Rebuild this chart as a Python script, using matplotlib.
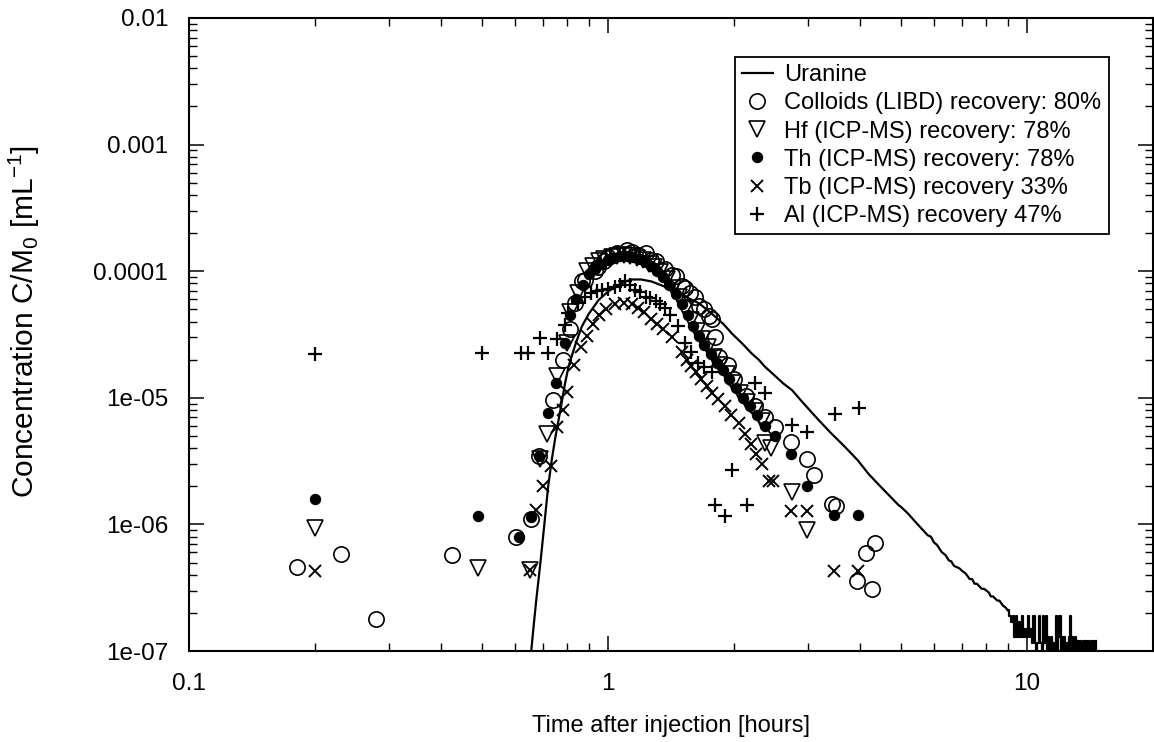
import matplotlib
matplotlib.use("Agg")
import matplotlib.pyplot as plt
from matplotlib.ticker import FixedLocator, FixedFormatter, LogLocator, NullFormatter

plt.rcParams['font.family'] = ['Liberation Sans', 'DejaVu Sans']
plt.rcParams['mathtext.fontset'] = 'custom'
plt.rcParams['mathtext.rm'] = 'Liberation Sans'
plt.rcParams['mathtext.it'] = 'Liberation Sans:italic'

# ---------------- data ----------------
uranine_t = [0.656, 0.665, 0.675, 0.69, 0.705, 0.72, 0.735, 0.75, 0.77, 0.79, 0.805,
             0.835, 0.866, 0.90, 0.949, 1.0, 1.04, 1.09, 1.14, 1.2, 1.27, 1.36, 1.474,
             1.56, 1.645, 1.72, 1.80, 1.89, 1.98, 2.1, 2.2, 2.29, 2.37, 2.5, 2.62, 2.75,
             2.9, 3.05, 3.18, 3.4, 3.6, 3.76, 3.95, 4.19, 4.5, 4.94,
             5.0, 5.2, 5.4, 5.6, 5.8, 5.9, 6.0, 6.1, 6.26, 6.4, 6.51, 6.6, 6.7, 6.8, 6.9,
             7.0, 7.14, 7.3, 7.4, 7.5, 7.6, 7.8, 7.9, 8.11, 8.2, 8.3, 8.5, 8.6, 8.75, 8.9, 9.0]
uranine_c = [1.0e-7, 1.6e-7, 2.6e-7, 5.0e-7, 1.0e-6, 2.0e-6, 3.3e-6, 5.0e-6, 8.0e-6, 1.3e-5, 1.76e-5,
             2.6e-5, 3.65e-5, 4.6e-5, 5.9e-5, 6.9e-5, 7.5e-5, 8.2e-5, 8.6e-5, 8.6e-5, 8.3e-5, 7.6e-5, 6.7e-5,
             6.1e-5, 5.6e-5, 5.0e-5, 4.4e-5, 3.8e-5, 3.2e-5, 2.65e-5, 2.25e-5, 2.0e-5, 1.76e-5, 1.5e-5, 1.3e-5, 1.15e-5,
             9.4e-6, 7.8e-6, 6.7e-6, 5.3e-6, 4.4e-6, 3.8e-6, 3.2e-6, 2.5e-6, 1.95e-6, 1.42e-6,
             1.38e-6, 1.22e-6, 1.06e-6, 9.3e-7, 8.2e-7, 8.0e-7, 7.2e-7, 6.9e-7, 6.05e-7, 5.7e-7, 5.2e-7, 5.1e-7,
             4.7e-7, 4.6e-7, 4.5e-7, 4.3e-7, 4.1e-7, 3.7e-7, 3.7e-7, 3.4e-7, 3.4e-7, 3.1e-7, 3.1e-7, 2.9e-7,
             2.7e-7, 2.7e-7, 2.5e-7, 2.5e-7, 2.3e-7, 2.2e-7, 2.1e-7]
# quantised, noisy tail of the uranine curve (drawn as steps)
uranine_tail_t = [9.0, 9.08, 9.16, 9.24, 9.32, 9.40, 9.48, 9.56, 9.64, 9.72, 9.80, 9.88, 9.96,
                  10.04, 10.12, 10.2, 10.28, 10.36, 10.44, 10.52, 10.6, 10.68, 10.76, 10.84,
                  10.92, 11.0, 11.08, 11.16, 11.24, 11.32, 11.4, 11.48, 11.56, 11.64, 11.72,
                  11.8, 11.88, 11.96, 12.04, 12.12, 12.2, 12.28, 12.36, 12.44, 12.52, 12.6,
                  12.68, 12.76, 12.84, 12.92, 13.0, 13.1, 13.2, 13.3, 13.4, 13.5, 13.6, 13.7,
                  13.8, 13.9, 14.0, 14.1, 14.2, 14.3, 14.4, 14.5, 14.6]
uranine_tail_c = [2.1e-7, 1.9e-7, 1.7e-7, 1.9e-7, 1.3e-7, 1.9e-7, 1.3e-7, 1.7e-7, 1.3e-7, 1.9e-7,
                  1.3e-7, 1.5e-7, 1.3e-7, 1.9e-7, 1.3e-7, 1.5e-7, 1.15e-7, 1.9e-7, 1.15e-7, 9.5e-8,
                  1.15e-7, 1.9e-7, 1.15e-7, 9.5e-8, 1.9e-7, 1.15e-7, 1.9e-7, 9.5e-8, 1.3e-7, 9.5e-8,
                  1.3e-7, 9.5e-8, 1.15e-7, 9.5e-8, 1.9e-7, 9.5e-8, 1.3e-7, 1.9e-7, 9.5e-8, 1.3e-7,
                  9.5e-8, 1.3e-7, 9.5e-8, 1.15e-7, 9.5e-8, 1.3e-7, 1.9e-7, 9.5e-8, 1.3e-7, 9.5e-8,
                  1.3e-7, 9.5e-8, 1.2e-7, 9.5e-8, 1.2e-7, 9.5e-8, 1.2e-7, 9.5e-8, 1.2e-7, 9.5e-8,
                  1.2e-7, 9.5e-8, 1.2e-7, 9.5e-8, 1.2e-7, 9.5e-8, 1.2e-7]

colloid_t = [0.181, 0.23, 0.28, 0.425, 0.604, 0.655, 0.685, 0.741, 0.783, 0.81, 0.835, 0.866,
             0.882, 0.93, 0.949, 0.98, 1.0, 1.05, 1.11, 1.14, 1.18, 1.23, 1.27, 1.30, 1.37,
             1.42, 1.45, 1.50, 1.53, 1.57, 1.61, 1.645, 1.70, 1.74, 1.77, 1.80, 1.84, 1.93,
             2.0, 2.14, 2.25, 2.37, 2.5, 2.73, 2.99, 3.1, 3.42, 3.5, 3.93, 4.12, 4.27, 4.33]
colloid_c = [4.6e-7, 5.8e-7, 1.79e-7, 5.7e-7, 7.9e-7, 1.1e-6, 3.5e-6, 9.6e-6, 2.0e-5, 3.5e-5, 5.6e-5, 8.3e-5,
             8.5e-5, 1.0e-4, 1.08e-4, 1.2e-4, 1.3e-4, 1.38e-4, 1.47e-4, 1.42e-4, 1.35e-4, 1.38e-4, 1.23e-4, 1.2e-4, 1.05e-4,
             9.3e-5, 9.1e-5, 7.6e-5, 7.4e-5, 6.7e-5, 6.2e-5, 5.3e-5, 5.0e-5, 4.4e-5, 4.2e-5, 3.0e-5, 2.1e-5, 1.8e-5,
             1.4e-5, 1.03e-5, 8.6e-6, 7.1e-6, 5.9e-6, 4.5e-6, 3.3e-6, 2.45e-6, 1.45e-6, 1.4e-6, 3.6e-7, 5.9e-7, 3.1e-7, 7.1e-7]

hf_t = [0.2, 0.49, 0.652, 0.69, 0.714, 0.755, 0.797, 0.81, 0.85, 0.89, 0.92, 0.95, 0.98, 1.02,
        1.05, 1.09, 1.13, 1.17, 1.21, 1.25, 1.29, 1.33, 1.38, 1.43, 1.48, 1.53, 1.58, 1.63,
        1.68, 1.73, 1.79, 1.85, 1.92, 1.99, 2.07, 2.15, 2.24, 2.33, 2.37, 2.45, 2.75, 2.99]
hf_c = [9.3e-7, 4.5e-7, 4.4e-7, 3.3e-6, 5.2e-6, 1.5e-5, 2.7e-5, 4.8e-5, 6.7e-5, 1.0e-4, 1.1e-4, 1.2e-4, 1.25e-4, 1.3e-4,
        1.33e-4, 1.35e-4, 1.32e-4, 1.28e-4, 1.22e-4, 1.15e-4, 1.07e-4, 9.8e-5, 8.6e-5, 7.4e-5, 6.2e-5, 5.0e-5, 4.1e-5, 3.4e-5,
        2.9e-5, 2.5e-5, 2.1e-5, 1.8e-5, 1.55e-5, 1.3e-5, 1.1e-5, 9.3e-6, 7.9e-6, 6.6e-6, 4.4e-6, 4.0e-6, 1.8e-6, 9.1e-7]

th_t = [0.2, 0.49, 0.615, 0.655, 0.685, 0.72, 0.75, 0.79, 0.81, 0.84, 0.87, 0.9, 0.93, 0.96,
        1.0, 1.03, 1.07, 1.11, 1.15, 1.19, 1.23, 1.27, 1.31, 1.35, 1.4, 1.45, 1.5, 1.55, 1.6,
        1.65, 1.7, 1.76, 1.82, 1.88, 1.95, 2.02, 2.1, 2.18, 2.27, 2.37, 2.5, 2.73, 2.99, 3.47, 3.96]
th_c = [1.58e-6, 1.16e-6, 7.9e-7, 1.15e-6, 3.5e-6, 7.6e-6, 1.3e-5, 2.7e-5, 4.5e-5, 6.0e-5, 7.8e-5, 9.5e-5, 1.05e-4, 1.15e-4,
        1.22e-4, 1.28e-4, 1.32e-4, 1.33e-4, 1.3e-4, 1.25e-4, 1.18e-4, 1.1e-4, 1.0e-4, 9.0e-5, 7.8e-5, 6.6e-5, 5.5e-5, 4.5e-5, 3.7e-5,
        3.1e-5, 2.6e-5, 2.2e-5, 1.9e-5, 1.65e-5, 1.4e-5, 1.2e-5, 1.0e-5, 8.6e-6, 7.3e-6, 6.0e-6, 5.0e-6, 3.6e-6, 2.0e-6, 1.19e-6, 1.19e-6]

tb_t = [0.2, 0.652, 0.675, 0.70, 0.73, 0.755, 0.78, 0.797, 0.83, 0.86, 0.89, 0.92, 0.95, 0.99,
        1.04, 1.09, 1.14, 1.18, 1.22, 1.27, 1.31, 1.35, 1.42, 1.5, 1.54, 1.58, 1.62, 1.67, 1.72,
        1.77, 1.83, 1.9, 1.97, 2.05, 2.12, 2.2, 2.26, 2.33, 2.42, 2.48, 2.73, 2.99, 3.47, 3.96]
tb_c = [4.3e-7, 4.4e-7, 1.3e-6, 2.0e-6, 2.9e-6, 5.9e-6, 8.0e-6, 1.12e-5, 1.8e-5, 2.5e-5, 3.1e-5, 3.8e-5, 4.5e-5, 5.0e-5,
        5.5e-5, 5.6e-5, 5.5e-5, 5.1e-5, 4.8e-5, 4.2e-5, 3.8e-5, 3.5e-5, 3.0e-5, 2.3e-5, 2.0e-5, 1.77e-5, 1.6e-5, 1.4e-5, 1.25e-5,
        1.1e-5, 9.7e-6, 8.6e-6, 7.3e-6, 6.3e-6, 5.2e-6, 4.3e-6, 3.6e-6, 3.0e-6, 2.2e-6, 2.2e-6, 1.28e-6, 1.28e-6, 4.3e-7, 4.3e-7]

al_t = [0.2, 0.5, 0.62, 0.645, 0.689, 0.72, 0.755, 0.79, 0.805, 0.85, 0.88, 0.91, 0.94, 0.97,
        1.0, 1.04, 1.07, 1.10, 1.13, 1.16, 1.19, 1.23, 1.26, 1.30, 1.33, 1.37, 1.41, 1.47, 1.53,
        1.58, 1.64, 1.70, 1.77, 1.80, 1.90, 1.98, 2.15, 2.25, 2.37, 2.75, 2.99, 3.48, 3.98]
al_c = [2.2e-5, 2.25e-5, 2.24e-5, 2.24e-5, 2.95e-5, 2.24e-5, 2.9e-5, 3.76e-5, 4.7e-5, 5.6e-5, 6.2e-5, 6.7e-5, 7.0e-5, 7.1e-5,
        7.3e-5, 7.5e-5, 7.8e-5, 8.3e-5, 7.8e-5, 7.1e-5, 6.8e-5, 6.3e-5, 6.1e-5, 5.8e-5, 5.5e-5, 5.1e-5, 4.5e-5, 3.7e-5, 2.7e-5,
        2.3e-5, 1.9e-5, 1.75e-5, 1.6e-5, 1.42e-6, 1.16e-6, 2.7e-6, 1.42e-6, 1.3e-5, 1.1e-5, 6.1e-6, 5.4e-6, 7.5e-6, 8.3e-6]

labels = ["Uranine",
          "Colloids (LIBD) recovery: 80%",
          "Hf (ICP-MS) recovery: 78%",
          "Th (ICP-MS) recovery: 78%",
          "Tb (ICP-MS) recovery 33%",
          "Al (ICP-MS) recovery 47%"]

x_ticks = [0.1, 1, 10]
x_tick_labels = ["0.1", "1", "10"]
y_ticks = [1e-7, 1e-6, 1e-5, 1e-4, 1e-3, 1e-2]
y_tick_labels = ["1e-07", "1e-06", "1e-05", "0.0001", "0.001", "0.01"]

# ---------------- figure ----------------
fig = plt.figure(figsize=(11.54, 7.42), dpi=100)
ax = fig.add_axes([189 / 1154, 1 - 651 / 742, 964 / 1154, 633 / 742])
ax.set_xscale('log')
ax.set_yscale('log')

lw = 1.6
ax.plot(uranine_t, uranine_c, color='black', lw=lw, label=labels[0], zorder=2)
ax.plot(uranine_tail_t, uranine_tail_c, color='black', lw=lw, drawstyle='steps-post', zorder=2)

mew = 1.2
ax.plot(colloid_t, colloid_c, ls='none', marker='o', ms=11, mfc='none', mec='black', mew=mew,
        label=labels[1], zorder=3)
ax.plot(hf_t, hf_c, ls='none', marker='v', ms=11, mfc='none', mec='black', mew=mew,
        label=labels[2], zorder=3)
ax.plot(th_t, th_c, ls='none', marker='o', ms=7, mfc='black', mec='black', mew=mew,
        label=labels[3], zorder=3)
ax.plot(tb_t, tb_c, ls='none', marker='x', ms=9, color='black', mew=1.4,
        label=labels[4], zorder=3)
ax.plot(al_t, al_c, ls='none', marker='+', ms=10, color='black', mew=1.6,
        label=labels[5], zorder=3)

ax.set_xlim(0.1, 20)
ax.set_ylim(1e-7, 1e-2)

ax.xaxis.set_major_locator(FixedLocator(x_ticks))
ax.xaxis.set_major_formatter(FixedFormatter(x_tick_labels))
ax.yaxis.set_major_locator(FixedLocator(y_ticks))
ax.yaxis.set_major_formatter(FixedFormatter(y_tick_labels))
ax.xaxis.set_minor_locator(LogLocator(base=10, subs=range(2, 10), numticks=20))
ax.yaxis.set_minor_locator(LogLocator(base=10, subs=range(2, 10), numticks=20))
ax.xaxis.set_minor_formatter(NullFormatter())
ax.yaxis.set_minor_formatter(NullFormatter())

ax.tick_params(which='both', direction='in', top=True, right=True, colors='black')
ax.tick_params(which='major', length=11, width=1.1, labelsize=17.5)
ax.tick_params(axis='x', which='major', pad=16)
ax.tick_params(axis='y', which='major', pad=15)
ax.tick_params(which='minor', length=6, width=1.0)
for s in ax.spines.values():
    s.set_linewidth(1.5)

ax.set_xlabel("Time after injection [hours]", fontsize=17, labelpad=14)
ax.set_ylabel(r"Concentration C/M$_\mathregular{0}$ [mL$^\mathregular{-1}$]", fontsize=21.5)
ax.yaxis.set_label_coords(-0.152, 0.52)

leg = ax.legend(loc='upper right', bbox_to_anchor=(0.954, 0.938), fontsize=17,
                frameon=True, fancybox=False, edgecolor='black', framealpha=1,
                labelspacing=0.26, handlelength=1.3, handletextpad=0.5, borderpad=0.3,
                borderaxespad=0.0)
leg.get_frame().set_linewidth(1.3)

fig.savefig("out.png", dpi=100)
